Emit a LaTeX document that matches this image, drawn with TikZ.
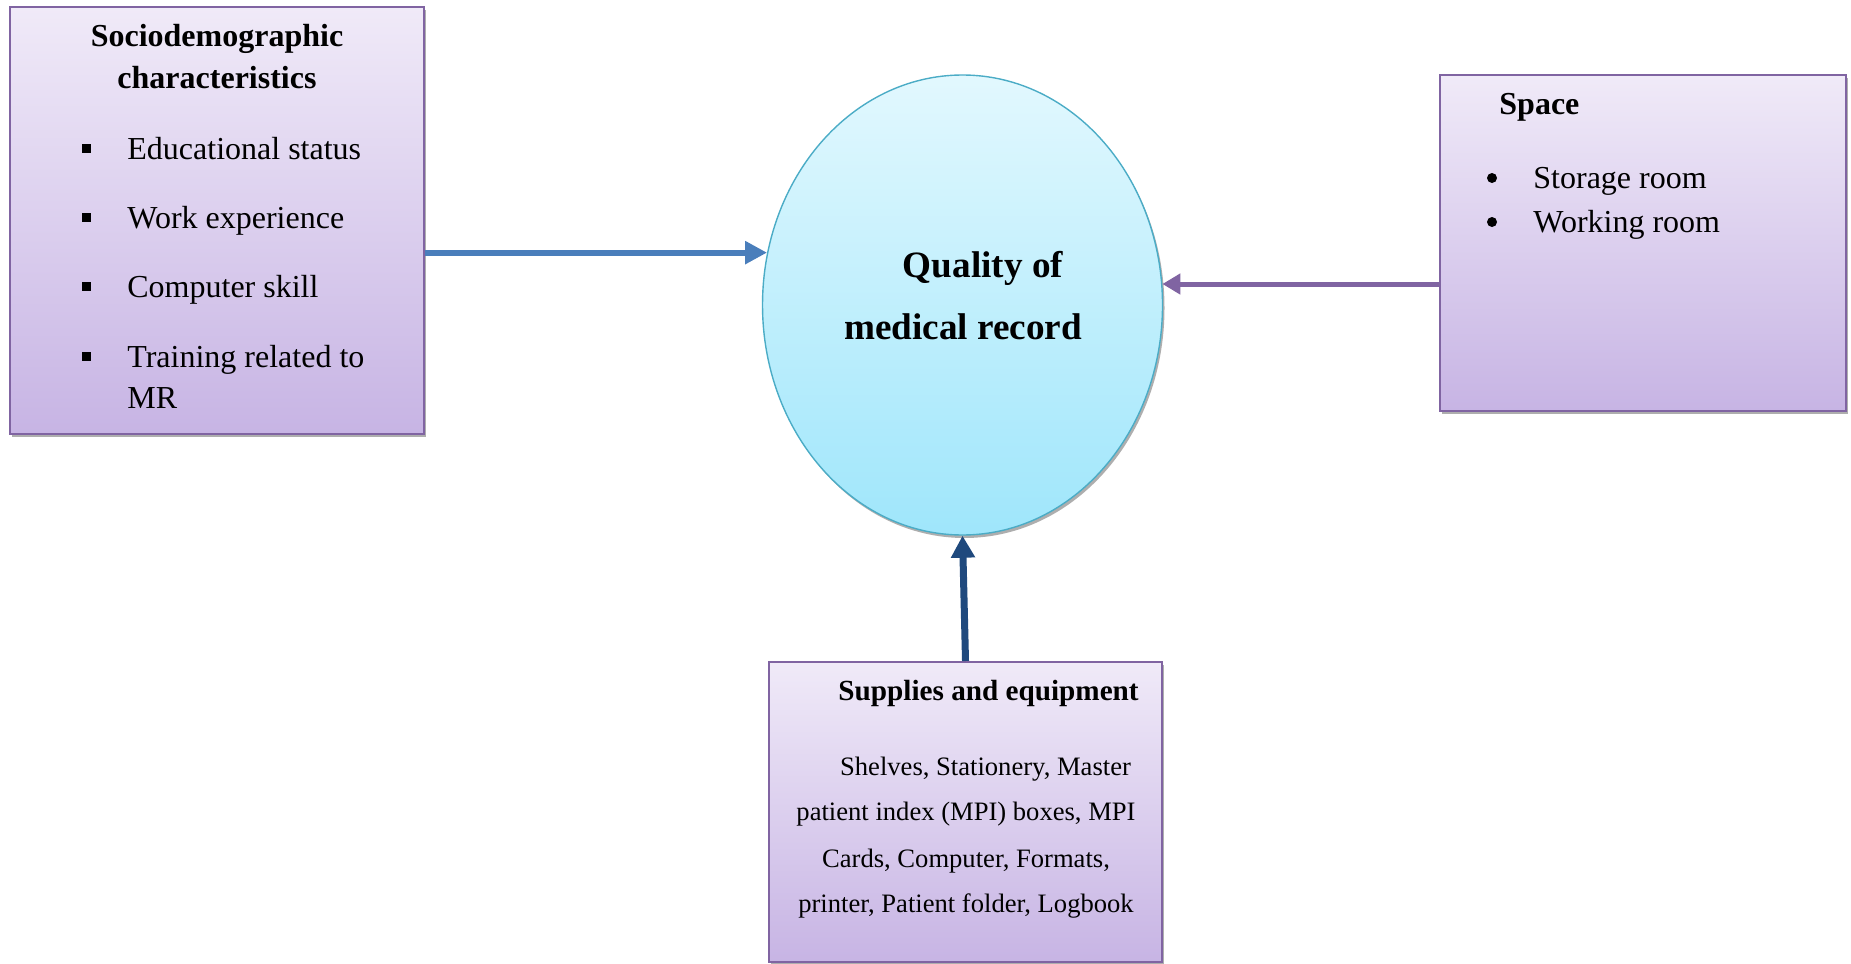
\documentclass[tikz,border=0pt]{standalone}
\usepackage{fontspec}
\setmainfont{Liberation Serif}
\usetikzlibrary{arrows.meta,shapes.geometric,shadows}
\definecolor{boxline}{HTML}{8064A2}
\definecolor{boxtop}{HTML}{F0EAF8}
\definecolor{boxbot}{HTML}{C7B4E4}
\definecolor{ovaltop}{HTML}{E2F8FE}
\definecolor{ovalbot}{HTML}{9FE6FB}
\definecolor{ovalline}{HTML}{4BACC6}
\definecolor{arrblue}{HTML}{4A7EBB}
\definecolor{arrpurple}{HTML}{8064A2}
\definecolor{arrnavy}{HTML}{1F497D}
\begin{document}
\begin{tikzpicture}[x=0.5pt, y=-0.5pt,
    factor/.style={rectangle, draw=boxline, line width=1pt, top color=boxtop, bottom color=boxbot, inner sep=0pt,
        drop shadow={shadow xshift=1pt, shadow yshift=-1.5pt, fill=black!45, opacity=0.7}},
    outcome/.style={ellipse, draw=ovalline, line width=0.7pt, top color=ovaltop, bottom color=ovalbot, inner sep=0pt,
        minimum width=200pt, minimum height=230pt,
        drop shadow={shadow xshift=1pt, shadow yshift=-1.5pt, fill=black!45, opacity=0.7}},
    head/.style={font=\fontsize{16}{19}\selectfont\bfseries, anchor=base, inner sep=0pt},
    item/.style={font=\fontsize{16}{19}\selectfont, anchor=base west, inner sep=0pt},
    supphead/.style={font=\fontsize{14.6}{17}\selectfont\bfseries, anchor=base, inner sep=0pt},
    suppline/.style={font=\fontsize{13.3}{16}\selectfont, anchor=base, inner sep=0pt},
    qualtext/.style={font=\fontsize{18.6}{22}\selectfont\bfseries, anchor=base, inner sep=0pt},
    sqbullet/.style={rectangle, fill=black, minimum size=4.5pt, inner sep=0pt},
    dotbullet/.style={circle, fill=black, minimum size=5pt, inner sep=0pt}]
    \useasboundingbox (0,0) rectangle (1851,963);
    % boxes and the oval
    \node[factor, minimum width=207pt, minimum height=213.5pt] (socio) at (217,220.5) {};
    \node[outcome] (qual) at (962.5,305) {};
    \node[factor, minimum width=203pt, minimum height=168pt] (space) at (1643,243) {};
    \node[factor, minimum width=196.5pt, minimum height=150pt] (supply) at (965.5,812) {};
    % sociodemographic characteristics
    \node[head] (sochead1) at (217,47) {Sociodemographic};
    \node[head] (sochead2) at (217,89) {characteristics};
    \node[sqbullet] (sb1) at (86,148) {};
    \node[sqbullet] (sb2) at (86,217) {};
    \node[sqbullet] (sb3) at (86,286) {};
    \node[sqbullet] (sb4) at (86,356) {};
    \node[item] (edu) at (127,159) {Educational status};
    \node[item] (work) at (127,228) {Work experience};
    \node[item] (comp) at (127,297) {Computer skill};
    \node[item] (train) at (127,367) {Training related to};
    \node[item] (mr) at (127,408) {MR};
    % outcome
    \node[qualtext] (qual1) at (983,277) {Quality of};
    \node[qualtext] (qual2) at (963,339) {medical record};
    % space
    \node[item, font=\fontsize{16}{19}\selectfont\bfseries] (spacehead) at (1499,115) {Space};
    \node[dotbullet] (db1) at (1492,178) {};
    \node[dotbullet] (db2) at (1492,222) {};
    \node[item] (storage) at (1533,188) {Storage room};
    \node[item] (working) at (1533,232) {Working room};
    % supplies and equipment
    \node[supphead] (supphead) at (988.6,700) {Supplies and equipment};
    \node[suppline] (supp1) at (985.5,775) {Shelves, Stationery, Master};
    \node[suppline] (supp2) at (966,820) {patient index (MPI) boxes, MPI};
    \node[suppline] (supp3) at (966,867) {Cards, Computer, Formats,};
    \node[suppline] (supp4) at (966,912) {printer, Patient folder, Logbook};
    % arrows
    \draw[arrblue, line width=3pt, -{Triangle[length=11pt,width=11pt]}] (socio.east |- qual.165.8) -- (qual.165.8);
    \draw[arrpurple, line width=2.5pt, -{Triangle[length=9pt,width=10pt]}] (space.west |- qual.6.3) -- (qual.6.3);
    \draw[arrnavy, line width=3.5pt, -{Triangle[length=11pt,width=11.5pt]}] (supply.north) -- (qual.south);
\end{tikzpicture}
\end{document}
